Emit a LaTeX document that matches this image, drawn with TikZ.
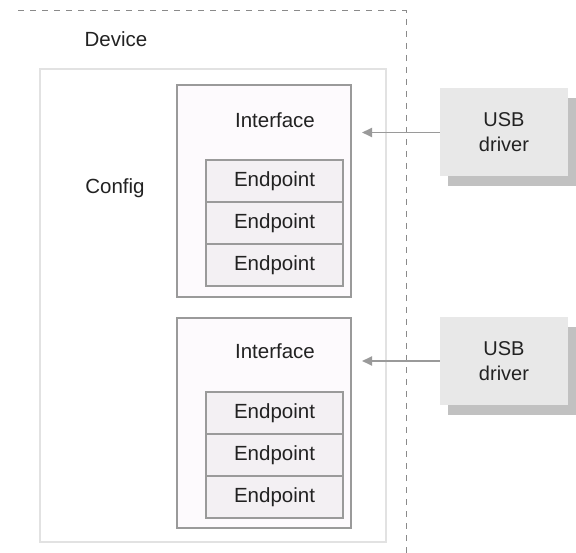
\documentclass[tikz,border=0pt]{standalone}
\usepackage{fontspec}
\setmainfont{Liberation Sans}
\usetikzlibrary{arrows.meta,shadows}
\definecolor{txt}{HTML}{222222}
\definecolor{ifline}{HTML}{9A9A9A}
\definecolor{cfgline}{HTML}{E2E2E2}
\definecolor{dashc}{HTML}{8A8A8A}
\definecolor{epfill}{HTML}{F3F0F3}
\definecolor{iffill}{HTML}{FDFAFD}
\definecolor{usbfill}{HTML}{E8E8E8}
\tikzset{
  lbl/.style={font=\fontsize{20.5}{24}\selectfont, text=txt, inner sep=0pt},
  cfgbox/.style={draw=cfgline, line width=1.5pt, fill=white, inner sep=0pt},
  ifbox/.style={draw=ifline, line width=1.5pt, fill=iffill, inner sep=0pt},
  epcell/.style={draw=ifline, line width=1.3pt, fill=epfill, inner sep=0pt,
     minimum width=137pt, minimum height=42pt, font=\fontsize{20.5}{24}\selectfont, text=txt},
  usbbox/.style={fill=usbfill, inner sep=0pt, minimum width=128pt, minimum height=88pt,
     font=\fontsize{20}{25}\selectfont, text=txt, align=center,
     drop shadow={shadow xshift=8pt, shadow yshift=-10pt, fill=black!30, opacity=0.8}},
  conn/.style={draw=ifline, line width=1.8pt, -{Triangle[length=10pt,width=9pt]}},
  border/.style={draw=dashc, line width=1pt, dash pattern=on 6pt off 6pt}
}
\begin{document}
\begin{tikzpicture}[x=1pt,y=-1pt]
\useasboundingbox (0,0) rectangle (576,553);
% device border
\coordinate (dtl) at (18,11);
\coordinate (dtr) at (406,11);
\coordinate (dbr) at (406,553);
\draw[border] (dtl) -- (dtr) -- (dbr);
\node[lbl] (device) at (116,39) {Device};
% config
\node[cfgbox, minimum width=346pt, minimum height=473pt] (config) at (213,305.5) {};
\node[lbl] (cfglbl) at (115,188) {Config};
% interface 1
\node[ifbox, minimum width=174pt, minimum height=212pt] (if1) at (264,191) {};
\node[lbl] (if1lbl) at (275,120) {Interface};
\node[epcell] (ep11) at (274.5,181) {Endpoint};
\node[epcell] (ep12) at (274.5,223) {Endpoint};
\node[epcell] (ep13) at (274.5,265) {Endpoint};
% interface 2
\node[ifbox, minimum width=174pt, minimum height=210pt] (if2) at (264,423) {};
\node[lbl] (if2lbl) at (275,351) {Interface};
\node[epcell] (ep21) at (274.5,413) {Endpoint};
\node[epcell] (ep22) at (274.5,455) {Endpoint};
\node[epcell] (ep23) at (274.5,497) {Endpoint};
% usb drivers
\node[usbbox] (usb1) at (504,132.5) {USB\\driver};
\node[usbbox] (usb2) at (504,361) {USB\\driver};
\coordinate (a1) at (362,132.5);
\coordinate (a2) at (362,361);
\draw[conn] (usb1.west) -- (a1);
\draw[conn] (usb2.west) -- (a2);
\end{tikzpicture}
\end{document}
